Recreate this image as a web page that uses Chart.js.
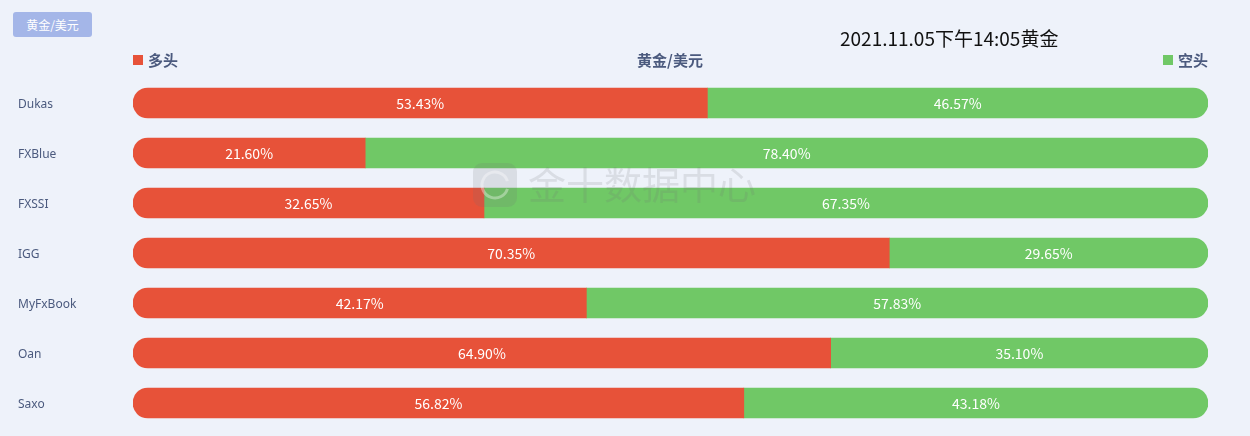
<!DOCTYPE html>
<html>
<head>
<meta charset="utf-8">
<script src="https://cdn.jsdelivr.net/npm/chart.js@4"></script>
<style>
  html, body { margin: 0; padding: 0; background: #eef2fa; }
  #wrap { position: relative; width: 1250px; height: 436px; }
  #tab {
    position: absolute; left: 13px; top: 12px; width: 79px; height: 25px;
    background: #a4b6e8; border-radius: 3px; color: #fff;
    font: 12px "Noto Sans CJK SC", sans-serif; line-height: 25px; text-align: center;
  }
</style>
</head>
<body>
<div id="wrap">
  <canvas id="sentimentChart" width="1250" height="436"></canvas>
  <div id="tab">黄金/美元</div>
</div>
<script>
const brokers = ["Dukas", "FXBlue", "FXSSI", "IGG", "MyFxBook", "Oan", "Saxo"];
const longPct = [53.43, 21.60, 32.65, 70.35, 42.17, 64.90, 56.82];
const shortPct = [46.57, 78.40, 67.35, 29.65, 57.83, 35.10, 43.18];
const seriesNames = ["多头", "空头"];
const pairName = "黄金/美元";
const timeTitle = "2021.11.05下午14:05黄金";

const RED = "#e75239";
const GREEN = "#70c866";
const TEXT = "#4b5a7e";
const CJK = '"Noto Sans CJK SC", sans-serif';

const overlay = {
  id: "overlay",
  afterDatasetsDraw(chart) {
    const ctx = chart.ctx;
    ctx.save();
    ctx.font = "14px " + CJK;
    ctx.fillStyle = "#fff";
    ctx.textAlign = "center";
    ctx.textBaseline = "middle";
    chart.data.datasets.forEach((ds, di) => {
      chart.getDatasetMeta(di).data.forEach((bar, i) => {
        const left = Math.min(bar.x, bar.base), right = Math.max(bar.x, bar.base);
        ctx.fillText(ds.data[i].toFixed(2) + "%", (left + right) / 2, bar.y + 1);
      });
    });
    // category labels, placed from the y scale
    const y = chart.scales.y;
    ctx.font = '12px "Noto Sans", sans-serif';
    ctx.fillStyle = TEXT;
    ctx.textAlign = "left";
    brokers.forEach((b, i) => {
      ctx.fillText(b, 18, y.getPixelForTick(i) + 2);
    });
    ctx.restore();
  },
  afterDraw(chart) {
    const ctx = chart.ctx;
    ctx.save();
    // watermark
    ctx.fillStyle = "rgba(110,110,120,0.16)";
    ctx.beginPath();
    ctx.roundRect(473, 163, 44, 44, 9);
    ctx.fill();
    ctx.strokeStyle = "rgba(255,255,255,0.35)";
    ctx.lineWidth = 3;
    ctx.beginPath();
    ctx.arc(495, 185, 13, 0.3, Math.PI * 2 - 0.3);
    ctx.stroke();
    ctx.fillStyle = "rgba(110,110,120,0.16)";
    ctx.font = "38px " + CJK;
    ctx.textBaseline = "middle";
    ctx.textAlign = "left";
    ctx.fillText("金十数据中心", 528, 185);

    // time title
    ctx.fillStyle = "#111";
    ctx.font = "19px " + CJK;
    ctx.fillText(timeTitle, 840, 39);

    // pair title
    ctx.fillStyle = TEXT;
    ctx.font = "bold 15px " + CJK;
    ctx.textAlign = "center";
    ctx.fillText(pairName, 670, 60);

    // legend
    const ca = chart.chartArea;
    ctx.font = "bold 15px " + CJK;
    ctx.textAlign = "left";
    ctx.fillStyle = RED;
    ctx.fillRect(ca.left, 55, 10, 10);
    ctx.fillStyle = TEXT;
    ctx.fillText(seriesNames[0], ca.left + 15, 60);
    const w = ctx.measureText(seriesNames[1]).width;
    ctx.fillStyle = GREEN;
    ctx.fillRect(ca.right - w - 15, 55, 10, 10);
    ctx.fillStyle = TEXT;
    ctx.fillText(seriesNames[1], ca.right - w, 60);
    ctx.restore();
  }
};

new Chart(document.getElementById("sentimentChart"), {
  type: "bar",
  data: {
    labels: brokers,
    datasets: [
      {
        label: seriesNames[0],
        data: longPct,
        backgroundColor: RED,
        borderSkipped: false,
        borderRadius: { topLeft: 15, bottomLeft: 15, topRight: 0, bottomRight: 0 },
        barThickness: 30,
      },
      {
        label: seriesNames[1],
        data: shortPct,
        backgroundColor: GREEN,
        borderSkipped: false,
        borderRadius: { topLeft: 0, bottomLeft: 0, topRight: 15, bottomRight: 15 },
        barThickness: 30,
      },
    ],
  },
  options: {
    indexAxis: "y",
    responsive: false,
    animation: false,
    layout: { padding: { left: 18, right: 42, top: 78, bottom: 8 } },
    plugins: { legend: { display: false }, tooltip: { enabled: false } },
    scales: {
      x: { stacked: true, min: 0, max: 100, display: false },
      y: {
        stacked: true,
        grid: { display: false },
        border: { display: false },
        afterFit: (scale) => { scale.width = 115; },
        ticks: { display: false },
      },
    },
  },
  plugins: [overlay],
});
</script>
</body>
</html>
